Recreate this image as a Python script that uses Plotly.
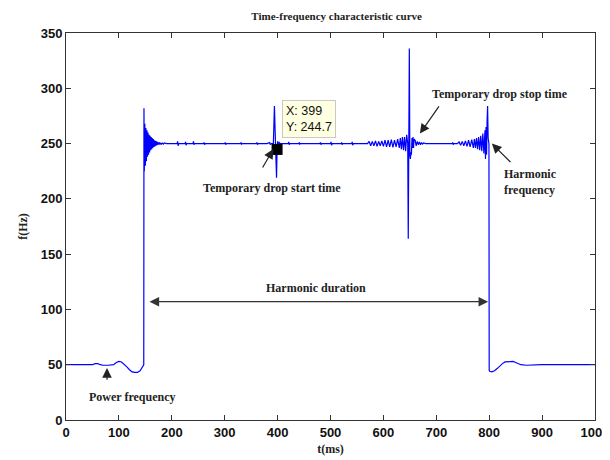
import plotly.graph_objects as go

# ---- data (t in ms, f in Hz) ----
t_base = [0, 50, 55, 60, 65, 70, 80, 90, 95, 100, 105, 110, 115, 120, 125, 130, 135, 140, 143, 145, 146.5]
f_base = [50, 50, 51, 51, 50, 49.5, 49.5, 50, 52, 53, 52.5, 50.5, 48, 45.5, 43.5, 43, 43, 44.5, 47, 48.5, 50]

t_rise = [147, 147.4, 148, 149, 150, 151, 152, 153, 154, 155, 156, 157, 158, 159, 160, 161, 162, 163,
          164, 165, 166, 167, 168, 169, 170, 171, 172, 173, 174, 175, 176, 177, 178, 179, 180, 182, 184,
          186, 188, 190]
f_rise = [50, 282, 225, 268, 230, 264, 234, 262, 238, 260, 240, 258, 242, 257, 244, 256, 245, 255,
          246, 254, 247, 253, 247.5, 252.5, 248, 252, 248.5, 251.5, 249, 251, 249, 251, 249.5, 250.5,
          249.5, 250.5, 249.5, 250.5, 250, 250]

t_mid1 = [210, 211, 212, 213, 225, 226, 227, 228, 240, 241, 242, 243, 260, 261, 262, 263, 300, 301, 302,
          303, 330, 331, 332, 333, 360, 361, 362, 363, 380, 385, 386, 388, 392]
f_mid1 = [250, 252, 248, 250, 250, 251.5, 248.5, 250, 250, 252, 249, 250, 250, 251, 249, 250, 250, 251,
          249, 250, 250, 251, 249.5, 250, 250, 251, 249, 250, 250, 251, 249, 250, 250]

t_drop = [394, 396, 398, 399, 400, 401, 403, 405]
f_drop = [284, 250, 219, 244.7, 252, 248, 251, 250]

t_mid2 = [420, 421, 422, 423, 440, 441, 442, 443, 480, 481, 482, 483, 500, 501, 502, 503, 520, 521, 522,
          523, 540, 541, 542, 543, 560]
f_mid2 = [250, 251.5, 249, 250, 250, 251, 249.5, 250, 250, 251, 249, 250, 250, 251.5, 248.5, 250, 250,
          251, 249, 250, 250, 251.5, 248.5, 250, 250]

t_stop = [570, 573, 576, 579, 582, 585, 588, 591, 594, 597, 600, 603, 606, 609, 612, 615, 618, 621, 624,
          627, 630, 632, 634, 636, 638, 640, 642, 644, 646, 647, 648, 649, 650, 651, 652, 653, 654, 655,
          656, 657, 658, 660, 662, 664, 666, 668, 670, 672, 674, 676, 680]
f_stop = [250, 252, 248, 252, 248, 252.5, 247.5, 252, 248, 252.5, 247.5, 253, 247, 253, 247, 253.5, 246.5,
          253, 247, 254, 246, 255, 245, 256, 244, 256, 243, 258, 250, 164, 250, 336, 240, 236, 242, 240,
          255, 246, 256, 246, 254, 253, 248, 252, 249, 251.5, 249, 251, 249.5, 250.5, 250]

t_end = [700, 730, 731, 732, 733, 740, 743, 746, 749, 752, 755, 758, 761, 764, 767, 770, 772, 774, 776,
         778, 780, 782, 784, 786, 788, 790, 792, 793, 794, 795, 796, 797, 798, 799.5]
f_end = [250, 250, 251, 249, 250, 250, 251.5, 248.5, 252, 248, 252.5, 247.5, 253, 247, 253.5, 246, 254,
         246, 255, 245, 256, 244, 257, 243, 259, 241, 262, 236, 265, 240, 270, 284, 255, 250]

t_tail = [800, 801, 805, 810, 815, 820, 825, 830, 840, 845, 850, 855, 860, 870, 880, 890, 900, 1000]
f_tail = [45, 44, 43.5, 44.5, 46.5, 49, 51, 52.5, 53, 53, 52, 51, 50, 49.5, 49.8, 50, 50, 50]

marker_t = [399]
marker_f = [244.7]

x_ticks = [0, 100, 200, 300, 400, 500, 600, 700, 800, 900, 1000]
y_ticks = [0, 50, 100, 150, 200, 250, 300, 350]

t_all = t_base + t_rise + t_mid1 + t_drop + t_mid2 + t_stop + t_end + t_tail
f_all = f_base + f_rise + f_mid1 + f_drop + f_mid2 + f_stop + f_end + f_tail

SERIF = "Liberation Serif"
SANS = "Liberation Sans"
TICK = "Liberation Sans"

fig = go.Figure()
fig.add_trace(go.Scatter(x=t_all, y=f_all, mode="lines",
                         line=dict(color="#0000ff", width=1.2), hoverinfo="skip"))
fig.add_trace(go.Scatter(x=marker_t, y=marker_f, mode="markers",
                         marker=dict(symbol="square", size=11, color="black"), hoverinfo="skip"))

ann = []
txt = dict(family=SERIF, size=12, color="#222222")

# Harmonic duration
ann.append(dict(x=473, y=119, xref="x", yref="y", text="<b>Harmonic duration</b>",
                showarrow=False, font=txt))
ann.append(dict(x=798, y=107, ax=155, ay=107, xref="x", yref="y", axref="x", ayref="y",
                text="", showarrow=True, arrowhead=2, startarrowhead=2, arrowside="end+start",
                arrowsize=1.6, arrowwidth=1.2, arrowcolor="#333333"))
# Power frequency
ann.append(dict(x=125, y=21, xref="x", yref="y", text="<b>Power frequency</b>",
                showarrow=False, font=txt))
ann.append(dict(x=77.5, y=47, ax=77.5, ay=35, xref="x", yref="y", axref="x", ayref="y",
                text="", showarrow=True, arrowhead=2, arrowsize=1.6, arrowwidth=1.2,
                arrowcolor="#222222"))
# Temporary drop start time
ann.append(dict(x=389, y=210, xref="x", yref="y", text="<b>Temporary drop start time</b>",
                showarrow=False, font=txt))
ann.append(dict(x=392, y=245, ax=370, ay=227, xref="x", yref="y", axref="x", ayref="y",
                text="", showarrow=True, arrowhead=2, arrowsize=1.6, arrowwidth=1.2,
                arrowcolor="#222222"))
# Data tip
ann.append(dict(x=409, y=289, xref="x", yref="y", xanchor="left", yanchor="top",
                text="X: 399<br>Y: 244.7", align="left", showarrow=False,
                font=dict(family=SANS, size=12.5, color="#111111"),
                bgcolor="#ffffe1", bordercolor="#c8c8c8", borderwidth=1, borderpad=3))
# Temporary drop stop time
ann.append(dict(x=820, y=295, xref="x", yref="y", text="<b>Temporary drop stop time</b>",
                showarrow=False, font=txt))
ann.append(dict(x=669, y=259, ax=707, ay=285, xref="x", yref="y", axref="x", ayref="y",
                text="", showarrow=True, arrowhead=2, arrowsize=1.6, arrowwidth=1.2,
                arrowcolor="#222222"))
# Harmonic frequency
ann.append(dict(x=825, y=215, xref="x", yref="y", xanchor="left",
                text="<b>Harmonic<br>frequency</b>", align="left", showarrow=False, font=txt))
ann.append(dict(x=805, y=250, ax=843, ay=232, xref="x", yref="y", axref="x", ayref="y",
                text="", showarrow=True, arrowhead=2, arrowsize=1.6, arrowwidth=1.2,
                arrowcolor="#222222"))

axis_common = dict(showgrid=False, zeroline=False, showline=True, linecolor="#333333", linewidth=1,
                   mirror="ticks", ticks="inside", ticklen=5, tickcolor="#333333", automargin=False,
                   ticklabeloverflow="allow",
                   tickfont=dict(family=TICK, size=13, color="#111111"))

# page body has an 8px margin, so the figure is drawn 8px smaller and offset
fig.update_layout(
    width=602, height=452,
    margin=dict(l=58, r=15, t=25, b=40),
    paper_bgcolor="white", plot_bgcolor="white",
    showlegend=False,
    title=dict(text="<b>Time-frequency characteristic curve</b>", x=0.546, xanchor="center",
               y=0.982, yanchor="middle", font=dict(family=SERIF, size=11, color="#222222")),
    xaxis=dict(range=[0, 1000], tickvals=x_ticks, ticktext=[f"<b>{v}</b>" for v in x_ticks],
               title=dict(text="<b>t(ms)</b>", font=dict(family=SERIF, size=12, color="#222222"),
                          standoff=6), **axis_common),
    yaxis=dict(range=[0, 350], tickvals=y_ticks, ticktext=[f"<b>{v}</b>" for v in y_ticks],
               title=dict(text="<b>f(Hz)</b>", font=dict(family=SERIF, size=12, color="#222222"),
                          standoff=10), **axis_common),
    annotations=ann,
)

fig.write_html("out.html")
